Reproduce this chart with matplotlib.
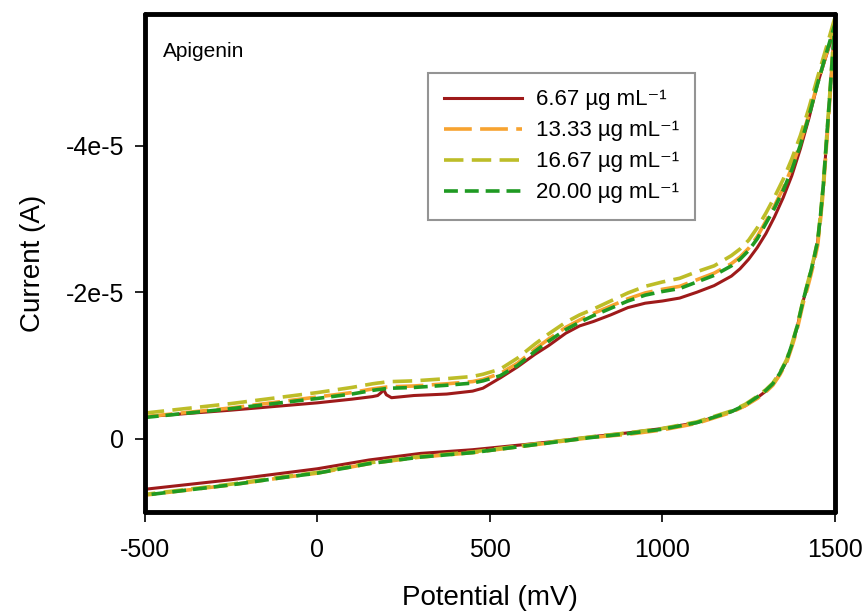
import matplotlib
matplotlib.use("Agg")
import matplotlib.pyplot as plt
import numpy as np

plt.rcParams['font.family'] = ['Liberation Sans', 'DejaVu Sans']
plt.rcParams['lines.scale_dashes'] = False

# ---- data (current in microamps, potential in mV) ----
fwd_pot = [-500, -250, 0, 100, 160, 175, 185, 192, 200, 215, 280, 375, 450, 480, 530, 580, 630, 670,
           720, 760, 800, 850, 900, 950, 1000, 1050, 1100, 1150, 1200, 1225, 1250, 1275, 1300, 1325,
           1350, 1375, 1400, 1425, 1450, 1475, 1500]
red_fwd = [-3.0, -3.9, -4.9, -5.4, -5.75, -5.9, -6.3, -6.7, -6.0, -5.6, -5.9, -6.1, -6.5, -6.9, -8.3,
           -9.8, -11.5, -12.7, -14.4, -15.4, -16.0, -16.9, -17.9, -18.5, -18.8, -19.2, -20.0, -20.9,
           -22.2, -23.2, -24.5, -26.1, -28.0, -30.3, -32.9, -35.9, -39.6, -43.8, -48.5, -52.3, -56.0]
orange_fwd = [-3.0, -4.2, -5.7, -6.3, -6.8, -6.9, -6.95, -7.0, -7.05, -7.1, -7.2, -7.5, -7.8, -8.1, -8.9,
              -10.3, -12.2, -13.6, -15.2, -16.2, -17.1, -18.1, -19.1, -19.9, -20.4, -20.8, -21.7, -22.6,
              -23.9, -24.8, -26.0, -27.6, -29.7, -31.8, -34.2, -37.0, -40.4, -44.3, -48.6, -52.5, -56.2]
yellow_fwd = [-3.5, -4.8, -6.3, -7.0, -7.5, -7.6, -7.65, -7.7, -7.75, -7.8, -7.9, -8.2, -8.5, -8.8, -9.5,
              -11.0, -12.9, -14.3, -15.9, -16.9, -17.7, -18.8, -19.9, -20.8, -21.4, -21.9, -22.8, -23.6,
              -25.0, -25.9, -27.1, -28.8, -30.8, -33.0, -35.4, -38.2, -41.4, -45.2, -49.4, -53.4, -57.5]
green_fwd = [-2.9, -4.1, -5.5, -6.1, -6.6, -6.7, -6.75, -6.8, -6.85, -6.9, -7.0, -7.3, -7.6, -7.9, -8.6,
             -10.0, -11.9, -13.3, -14.9, -15.9, -16.8, -17.8, -18.8, -19.6, -20.1, -20.5, -21.4, -22.3,
             -23.6, -24.5, -25.7, -27.3, -29.4, -31.5, -33.9, -36.7, -40.1, -44.1, -48.5, -52.6, -56.6]

rev_pot = [1500, 1495, 1490, 1485, 1480, 1473, 1466, 1458, 1450, 1440, 1430, 1420, 1408, 1390, 1375,
           1360, 1340, 1320, 1300, 1275, 1240, 1200, 1100, 1000, 900, 800, 700, 600, 450, 300, 150, 0,
           -100, -250, -500]
red_rev = [-56.0, -53.2, -50.0, -46.6, -43.4, -38.8, -34.2, -30.2, -26.9, -24.7, -22.7, -20.9, -18.8,
           -15.1, -12.7, -10.6, -8.8, -7.4, -6.5, -5.6, -4.5, -3.7, -2.2, -1.4, -0.8, -0.3, 0.3, 0.8,
           1.5, 2.0, 2.9, 4.1, 4.7, 5.6, 6.9]
orange_rev = [-56.2, -53.0, -49.6, -46.2, -42.9, -38.3, -33.7, -29.8, -26.4, -24.2, -22.3, -20.5, -18.5,
              -14.8, -12.5, -10.4, -8.7, -7.3, -6.4, -5.5, -4.5, -3.6, -2.1, -1.2, -0.6, -0.2, 0.4, 1.0,
              1.9, 2.5, 3.4, 4.7, 5.3, 6.3, 7.7]
yellow_rev = [-57.5, -54.0, -50.5, -47.0, -43.8, -39.2, -34.5, -30.5, -27.1, -24.9, -22.9, -21.1, -19.0,
              -15.3, -12.9, -10.8, -9.0, -7.6, -6.7, -5.8, -4.7, -3.8, -2.3, -1.4, -0.8, -0.3, 0.3, 0.9,
              1.8, 2.4, 3.3, 4.6, 5.2, 6.2, 7.6]
green_rev = [-56.6, -53.5, -50.2, -46.8, -43.6, -39.0, -34.4, -30.4, -27.0, -24.8, -22.8, -21.0, -18.9,
             -15.2, -12.8, -10.7, -8.9, -7.5, -6.6, -5.7, -4.6, -3.7, -2.2, -1.3, -0.7, -0.2, 0.4, 1.0,
             1.9, 2.5, 3.4, 4.7, 5.3, 6.3, 7.7]

labels = ['6.67 µg mL⁻¹', '13.33 µg mL⁻¹', '16.67 µg mL⁻¹', '20.00 µg mL⁻¹']
xticks = [-500, 0, 500, 1000, 1500]
yticks = [0, -2e-5, -4e-5]
ytick_labels = ['0', '-2e-5', '-4e-5']

# ---- plotting ----
fig = plt.figure(figsize=(8.67, 6.15), dpi=100)
ax = fig.add_axes([0.167, 0.1675, 0.796, 0.81])

series = [
    (red_fwd + red_rev, dict(color='#9E1A1A', lw=2.2, ls='-')),
    (orange_fwd + orange_rev, dict(color='#F7A330', lw=2.6, dashes=(20, 6))),
    (yellow_fwd + yellow_rev, dict(color='#BDBD28', lw=2.6, dashes=(14, 6))),
    (green_fwd + green_rev, dict(color='#1F9A22', lw=2.6, dashes=(10, 5))),
]
pot_all = fwd_pot + rev_pot
for (vals, style), lab in zip(series, labels):
    ax.plot(pot_all, np.array(vals) * 1e-6, label=lab, solid_joinstyle='round', **style)

ax.set_xlim(-500, 1500)
ax.set_ylim(1.0e-5, -5.8e-5)
ax.set_xticks(xticks)
ax.set_xticklabels([str(t) for t in xticks], fontsize=18)
ax.set_yticks(yticks)
ax.set_yticklabels(ytick_labels, fontsize=18)
ax.tick_params(direction='out', length=7, width=1.2)
ax.tick_params(axis='x', pad=12)
ax.tick_params(axis='y', pad=8)
for sp in ax.spines.values():
    sp.set_linewidth(3.5)
    sp.set_capstyle('round')

ax.set_xlabel('Potential (mV)', fontsize=20, labelpad=16)
ax.set_ylabel('Current (A)', fontsize=20, labelpad=14)

ax.text(0.026, 0.925, 'Apigenin', transform=ax.transAxes, fontsize=15, va='center', ha='left')

leg = ax.legend(loc='upper left', bbox_to_anchor=(0.41, 0.882), borderaxespad=0,
                fontsize=16, frameon=True, fancybox=False, handlelength=3.5,
                handletextpad=0.6, labelspacing=0.45, borderpad=0.75)
leg.get_frame().set_edgecolor('#7a7a7a')
leg.get_frame().set_linewidth(1.5)

fig.savefig('out.png', dpi=100)
